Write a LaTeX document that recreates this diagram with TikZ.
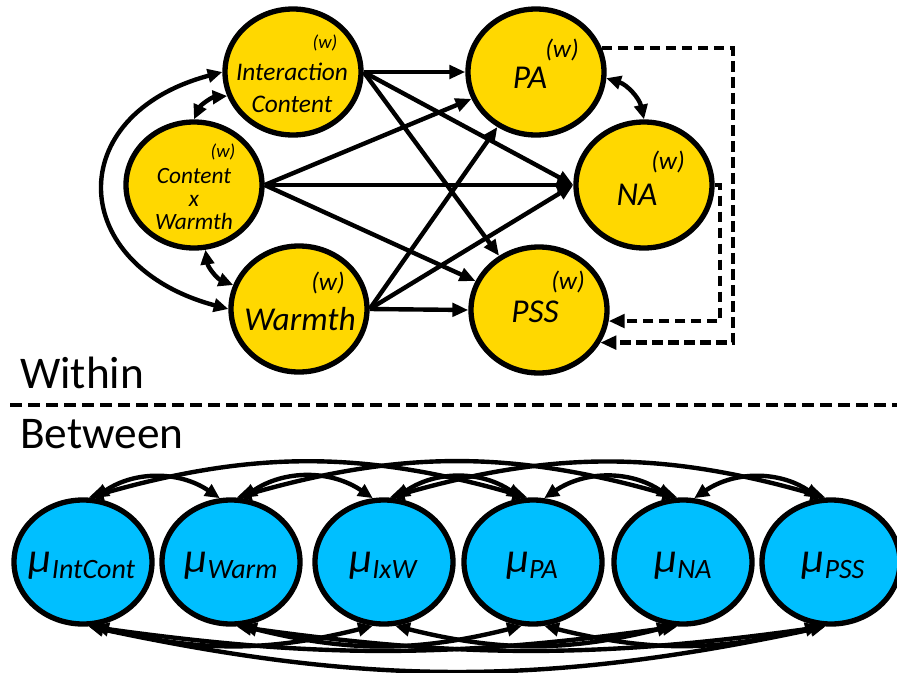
\documentclass[tikz,border=0pt]{standalone}
\usepackage{fontspec}
\setmainfont{Carlito}
\usetikzlibrary{shapes.geometric,arrows.meta}
\definecolor{wyellow}{RGB}{255,216,0}
\definecolor{bblue}{RGB}{0,191,255}
\newcommand{\mulab}[1]{{\fontsize{32}{32}\selectfont\itshape μ}\raisebox{-5pt}{\fontsize{21}{21}\selectfont\itshape #1}}

\begin{document}
\begin{tikzpicture}[x=0.75pt, y=0.75pt,
  wnode/.style={ellipse, draw, line width=4pt, fill=wyellow, minimum width=102pt, minimum height=94.5pt, inner sep=0pt},
  bnode/.style={ellipse, draw, line width=4pt, fill=bblue, minimum width=103.5pt, minimum height=93pt, inner sep=0pt},
  reg/.style={line width=3.3pt, -{Triangle[length=12pt,width=10pt]}},
  cov/.style={line width=3.3pt, {Triangle[length=11pt,width=10pt]}-{Triangle[length=11pt,width=10pt]}},
  res/.style={line width=3.3pt, dash pattern=on 8pt off 4pt, -{Triangle[length=12pt,width=10pt]}},
  wsup/.style={font=\fontsize{19}{19}\selectfont\itshape, inner sep=0pt},
  wsupsmall/.style={font=\fontsize{14}{14}\selectfont\itshape, inner sep=0pt},
  biglab/.style={font=\fontsize{25}{25}\selectfont\itshape, inner sep=0pt, anchor=base},
  mulabel/.style={inner sep=0pt, anchor=base}]
  \useasboundingbox (0,0) rectangle (897,-672);

  % Within nodes
  \node (IC) [wnode] at (293,-72) {};
  \node (CW) [wnode] at (194,-185) {};
  \node (W) [wnode] at (299,-309) {};
  \node (PA) [wnode] at (536,-72) {};
  \node (NA) [wnode] at (644,-185) {};
  \node (PSS) [wnode] at (539,-310) {};

  % Within labels
  \node (ICtxt) [inner sep=0pt, align=center, font=\fontsize{19}{24}\selectfont\itshape] at (292,-88) {Interaction\\Content};
  \node (ICw) [wsupsmall] at (325,-43) {(w)};
  \node (CWtxt) [inner sep=0pt, align=center, font=\fontsize{17.5}{17.6}\selectfont\itshape] at (194,-199) {Content\\x\\Warmth};
  \node (CWw) [wsupsmall] at (223,-152) {(w)};
  \node (Wtxt) [biglab] at (300,-330) {Warmth};
  \node (Ww) [wsup] at (328,-283) {(w)};
  \node (PAtxt) [biglab] at (530,-88) {PA};
  \node (PAw) [wsup] at (562,-50) {(w)};
  \node (NAtxt) [biglab] at (637,-205) {NA};
  \node (NAw) [wsup] at (668,-162) {(w)};
  \node (PSStxt) [biglab] at (535,-322) {PSS};
  \node (PSSw) [wsup] at (568,-282) {(w)};

  % Regressions
  \draw[reg] (IC.east) -- (PA.west);
  \draw[reg] (IC.east) -- (NA.west);
  \draw[reg] (IC.east) -- (PSS);
  \draw[reg] (CW.east) -- (PA);
  \draw[reg] (CW.east) -- (NA.west);
  \draw[reg] (CW.east) -- (PSS);
  \draw[reg] (W.east) -- (PA);
  \draw[reg] (W.east) -- (NA.west);
  \draw[reg] (W.east) -- (PSS.west);

  % Covariances within
  \draw[cov] (CW.north) to[bend left=30] (IC.200);
  \draw[cov] (CW.-80) to[bend right=30] (W.160);
  \draw[cov] (IC.west) to[out=195, in=165, looseness=1.8] (W.west);
  \draw[cov] (PA.-5) to[bend left=30] (NA.north);

  % Residual paths
  \coordinate (dA) at (733,0);
  \coordinate (dB) at (720,0);
  \draw[res] (PA.20) -| (dA |- PSS.-28) -- (PSS.-28);
  \draw[res] (NA.east) -| (dB |- PSS.-9) -- (PSS.-9);

  % Separator
  \coordinate (sepL) at (10,-405);
  \coordinate (sepR) at (897,-405);
  \draw[line width=3.6pt, dash pattern=on 9pt off 4.5pt] (sepL) -- (sepR);
  \node (within) [anchor=base west, inner sep=0pt, font=\fontsize{34}{34}\selectfont] at (20,-388) {Within};
  \node (between) [anchor=base west, inner sep=0pt, font=\fontsize{34}{34}\selectfont] at (20,-448) {Between};

  % Between nodes
  \node (m1) [bnode] at (83,-562) {};
  \node (m2) [bnode] at (231,-562) {};
  \node (m3) [bnode] at (384,-562) {};
  \node (m4) [bnode] at (533,-562) {};
  \node (m5) [bnode] at (683,-562) {};
  \node (m6) [bnode] at (831,-562) {};
  \node (m1txt) [mulabel] at (82,-572) {\mulab{IntCont}};
  \node (m2txt) [mulabel] at (231,-572) {\mulab{Warm}};
  \node (m3txt) [mulabel] at (383,-572) {\mulab{IxW}};
  \node (m4txt) [mulabel] at (532,-572) {\mulab{PA}};
  \node (m5txt) [mulabel] at (683,-572) {\mulab{NA}};
  \node (m6txt) [mulabel] at (833,-572) {\mulab{PSS}};

  % Covariances between (top)
  \draw[cov] (m1.80) to[out=34, in=146] (m2.100);
  \draw[cov] (m2.80) to[out=34, in=146] (m3.100);
  \draw[cov] (m3.80) to[out=34, in=146] (m4.100);
  \draw[cov] (m4.80) to[out=34, in=146] (m5.100);
  \draw[cov] (m5.80) to[out=34, in=146] (m6.100);
  \draw[cov] (m1.85) to[out=16, in=164] (m4.95);
  \draw[cov] (m2.85) to[out=16, in=164] (m5.95);
  \draw[cov] (m3.85) to[out=16, in=164] (m6.95);
  % Covariances between (bottom)
  \draw[cov] (m1.-80) to[out=-14, in=-166] (m3.-100);
  \draw[cov] (m2.-80) to[out=-14, in=-166] (m4.-100);
  \draw[cov] (m3.-80) to[out=-14, in=-166] (m5.-100);
  \draw[cov] (m4.-80) to[out=-14, in=-166] (m6.-100);
  \draw[cov] (m1.-85) to[out=-8, in=-172] (m5.-95);
  \draw[cov] (m2.-85) to[out=-8, in=-172] (m6.-95);
  \draw[cov] (m1.-85) to[out=-12, in=-168] (m6.-95);
\end{tikzpicture}
\end{document}
